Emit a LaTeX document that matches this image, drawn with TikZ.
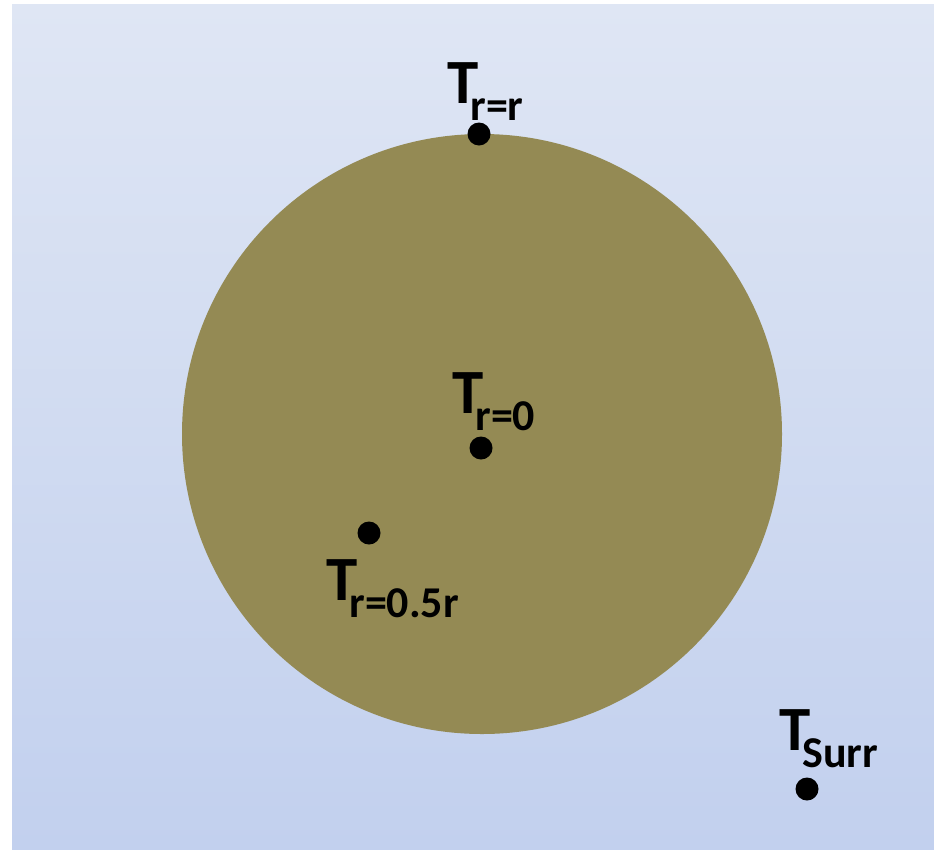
\documentclass[tikz,border=0pt]{standalone}
\usepackage{fontspec}
\setmainfont{Carlito}
\usetikzlibrary{positioning}

\definecolor{ballolive}{HTML}{948A54}
\definecolor{bgtop}{HTML}{DFE6F4}
\definecolor{bgmid}{HTML}{C3D1EE}
\definecolor{bgbot}{HTML}{C2D0EE}

\newcommand{\templabel}[1]{%
    \fontsize{63}{63}\selectfont T\kern-8pt%
    \raisebox{-17pt}{\fontsize{44}{44}\selectfont #1}}

\begin{document}
\begin{tikzpicture}[
    x=1pt,
    y=-1pt,
    ball/.style={
        circle,
        fill=ballolive,
        inner sep=0pt,
        minimum size=600pt
    },
    dot/.style={
        circle,
        fill=black,
        inner sep=0pt,
        minimum size=23pt
    },
    temp/.style={
        anchor=base west,
        inner sep=0pt,
        font=\bfseries
    }
]

\useasboundingbox (0,0) rectangle (934,849);

\shade[top color=bgtop, middle color=bgmid, bottom color=bgbot]
    (12,4) rectangle (934,849);

\node[ball] (sphere) at (482,434) {};

\node[dot] (surface) at (479,134) {};
\node[dot] (centre) at (481,448) {};
\node[dot] (half) at (369,533) {};
\node[dot] (surr) at (807,789) {};

\node[temp] (surfacelabel) at (447,103) {\templabel{r=r}};
\node[temp] (centrelabel) at (452,413) {\templabel{r=0}};
\node[temp] (halflabel) at (326,600) {\templabel{r=0.5r}};
\node[temp] (surrlabel) at (779,750) {\templabel{Surr}};
\end{tikzpicture}
\end{document}
